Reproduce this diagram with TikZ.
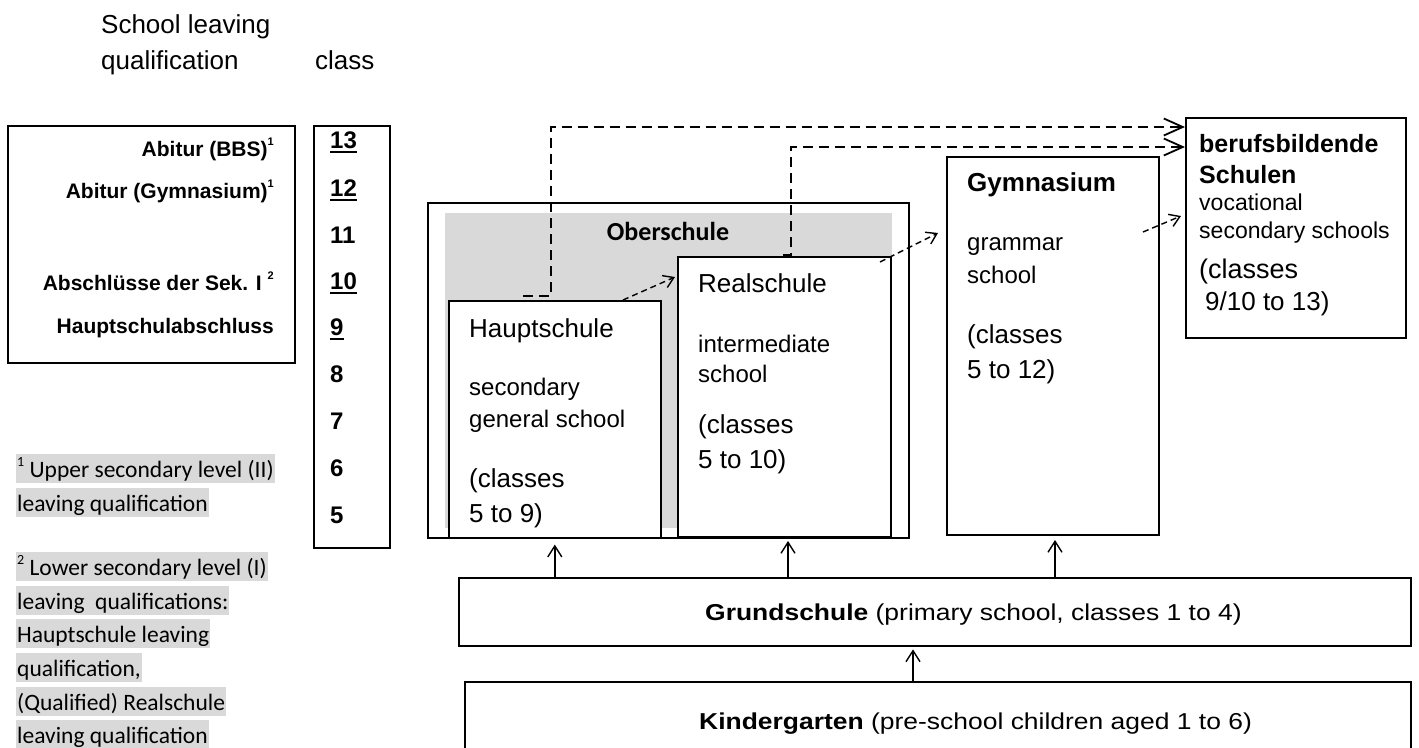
\documentclass[tikz,border=0pt]{standalone}
\usepackage{fontspec}
\usepackage{graphicx}
\setmainfont{Liberation Sans}
\newfontfamily\calib{Carlito}
\usetikzlibrary{arrows.meta}
\definecolor{hl}{RGB}{217,217,217}
\definecolor{ob}{RGB}{217,217,217}
\newcommand\undl[1]{\setbox0\hbox{#1}\rlap{\rule[-4.5pt]{\wd0}{1.8pt}}#1}
\newcommand\supr[1]{\raisebox{0.5em}{\fontsize{11}{12}\selectfont #1}}
\newcommand\fsupr[1]{\raisebox{0.45em}{\fontsize{14}{15}\selectfont #1}}
\begin{document}
\begin{tikzpicture}[x=1pt,y=-1pt,
  box/.style={draw, line width=1.6pt, fill=white, inner sep=0pt, anchor=north west},
  tbox/.style={box, line width=2.4pt},
  tx/.style={anchor=base west, inner sep=0pt},
  hdr/.style={tx, font={\fontsize{26}{30}\selectfont}},
  ttl/.style={tx, font={\fontsize{26}{30}\selectfont}},
  dsc/.style={tx, font={\fontsize{24}{28}\selectfont}},
  cls/.style={tx, font={\fontsize{26}{30}\selectfont}},
  lab/.style={anchor=base east, inner sep=0pt, font={\fontsize{21}{25}\selectfont\bfseries}},
  num/.style={tx, font={\fontsize{24}{28}\selectfont\bfseries}},
  fn/.style={anchor=base west, fill=hl, inner xsep=1pt, inner ysep=0pt, text height=23pt, text depth=6pt, font={\calib\fontsize{23.5}{28}\selectfont}},
  bigdash/.style={line width=2pt, dash pattern=on 10pt off 6pt, -{Straight Barb[length=19pt,width=17pt,line width=1.8pt]}},
  smalldash/.style={line width=1.4pt, dash pattern=on 6pt off 4pt, -{Straight Barb[length=10pt,width=13pt,line width=1.4pt]}},
  uparrow/.style={line width=1.4pt, -{Straight Barb[length=11pt,width=14pt,line width=1.4pt]}}
]
\useasboundingbox (0,0) rectangle (1419,747);
\clip (0,0) rectangle (1419,747);

% header
\node[hdr] (h1) at (101,33) {School leaving};
\node[hdr] (h2) at (101,69) {qualification};
\node[hdr] (h3) at (315,69) {class};

% qualification box
\node[box, minimum width=287pt, minimum height=237pt] (qual) at (7,125) {};
\node[lab] (l1) at (274,156) {Abitur (BBS)\supr{1}};
\node[lab] (l2) at (274,198) {Abitur (Gymnasium)\supr{1}};
\node[lab] (l3) at (274,290) {Abschlüsse der Sek. I \supr{2}};
\node[lab] (l4) at (274,333) {Hauptschulabschluss};

% class box
\node[box, minimum width=76pt, minimum height=422pt] (cl) at (313,125) {};
\node[num] (n13) at (330,148) {\undl{13}};
\node[num] (n12) at (330,196) {\undl{12}};
\node[num] (n11) at (330,243) {11};
\node[num] (n10) at (330,289) {\undl{10}};
\node[num] (n9) at (330,335) {\undl{9}};
\node[num] (n8) at (330,382) {8};
\node[num] (n7) at (330,429) {7};
\node[num] (n6) at (330,476) {6};
\node[num] (n5) at (330,523) {5};

% footnotes
\node[fn] (f1) at (16,477) {\fsupr{1} Upper secondary level (II)};
\node[fn] (f2) at (16,511) {leaving qualification};
\node[fn] (f3) at (16,575) {\fsupr{2} Lower secondary level (I)};
\node[fn] (f4) at (16,609) {leaving \ qualifications:};
\node[fn] (f5) at (16,642) {Hauptschule leaving};
\node[fn] (f6) at (16,676) {qualification,};
\node[fn] (f7) at (16,710) {(Qualified) Realschule};
\node[fn] (f8) at (16,743) {leaving qualification};

% Oberschule
\node[tbox, minimum width=481pt, minimum height=335pt] (ober) at (427,202) {};
\node[anchor=north west, fill=ob, inner sep=0pt, minimum width=447pt, minimum height=315pt] (obfill) at (445,213) {};
\node[anchor=base, inner sep=0pt, font={\calib\fontsize{26}{30}\selectfont\bfseries}] (obt) at (668,240) {Oberschule};

% Hauptschule
\node[box, minimum width=212pt, minimum height=237pt] (haupt) at (448,300) {};
\node[ttl] (ht1) at (469,337) {Hauptschule};
\node[dsc] (ht2) at (469,395) {secondary};
\node[dsc] (ht3) at (469,427) {general school};
\node[cls] (ht4) at (469,487) {(classes};
\node[cls] (ht5) at (469,522) {5 to 9)};

% Realschule
\node[box, minimum width=213pt, minimum height=280pt] (real) at (677,256) {};
\node[ttl] (rt1) at (698,292) {Realschule};
\node[dsc] (rt2) at (698,352) {intermediate};
\node[dsc] (rt3) at (698,382) {school};
\node[cls] (rt4) at (698,433) {(classes};
\node[cls] (rt5) at (698,468) {5 to 10)};

% Gymnasium
\node[box, minimum width=212pt, minimum height=378pt] (gym) at (946,156) {};
\node[ttl, font={\fontsize{26}{30}\selectfont\bfseries}] (gt1) at (967,191) {Gymnasium};
\node[dsc] (gt2) at (967,250) {grammar};
\node[dsc] (gt3) at (967,283) {school};
\node[cls] (gt4) at (967,343) {(classes};
\node[cls] (gt5) at (967,378) {5 to 12)};

% berufsbildende Schulen
\node[box, minimum width=220pt, minimum height=220pt] (bbs) at (1185,117) {};
\node[tx, font={\fontsize{25}{29}\selectfont\bfseries}] (bt1) at (1199,152) {berufsbildende};
\node[tx, font={\fontsize{25}{29}\selectfont\bfseries}] (bt2) at (1199,183) {Schulen};
\node[tx, font={\fontsize{23}{27}\selectfont}] (bt3) at (1199,210) {vocational};
\node[tx, font={\fontsize{23}{27}\selectfont}] (bt4) at (1199,238) {secondary schools};
\node[tx, font={\fontsize{27}{31}\selectfont}] (bt5) at (1199,278) {(classes};
\node[tx, font={\fontsize{26}{30}\selectfont}] (bt6) at (1205,310) {9/10 to 13)};

% Grundschule / Kindergarten
\node[tbox, minimum width=952pt, minimum height=68pt] (grund) at (458,577) {};
\node[tx, font={\fontsize{23}{27}\selectfont}] (gst) at (705,620) {\scalebox{1.15}[1]{\textbf{Grundschule} (primary school, classes 1 to 4)}};
\node[tbox, minimum width=946pt, minimum height=100pt] (kinder) at (464,681) {};
\node[tx, font={\fontsize{23}{27}\selectfont}] (kgt) at (699,729) {\scalebox{1.15}[1]{\textbf{Kindergarten} (pre-school children aged 1 to 6)}};

% up arrows
\draw[uparrow, shorten >=6pt] (haupt.south |- grund.north) -- (haupt.south);
\coordinate (ra) at (788,577);
\draw[uparrow] (ra) -- (ra |- 0,541);
\coordinate (ga) at (1055,577);
\draw[uparrow] (ga) -- (ga |- 0,540);
\coordinate (ka) at (913,681);
\draw[uparrow, shorten >=2pt] (ka) -- (ka |- grund.south);

% big dashed connectors to berufsbildende Schulen
\coordinate (hd0) at (523,296);
\coordinate (hd1) at (551,296);
\coordinate (hd2) at (551,127);
\draw[bigdash] (hd0) -- (hd1) -- (hd2) -- (hd2 -| bbs.west);
\coordinate (rd0) at (783,255);
\coordinate (rd1) at (791,255);
\coordinate (rd2) at (791,147);
\draw[bigdash] (rd0) -- (rd1) -- (rd2) -- (rd2 -| bbs.west);

% small dashed arrows
\coordinate (s1a) at (623,300);
\coordinate (s1b) at (675,277);
\draw[smalldash] (s1a) -- (s1b);
\coordinate (s2a) at (880,262);
\coordinate (s2b) at (938,233);
\draw[smalldash] (s2a) -- (s2b);
\coordinate (s3a) at (1143,232);
\coordinate (s3b) at (1181,216);
\draw[smalldash] (s3a) -- (s3b);
\end{tikzpicture}
\end{document}
